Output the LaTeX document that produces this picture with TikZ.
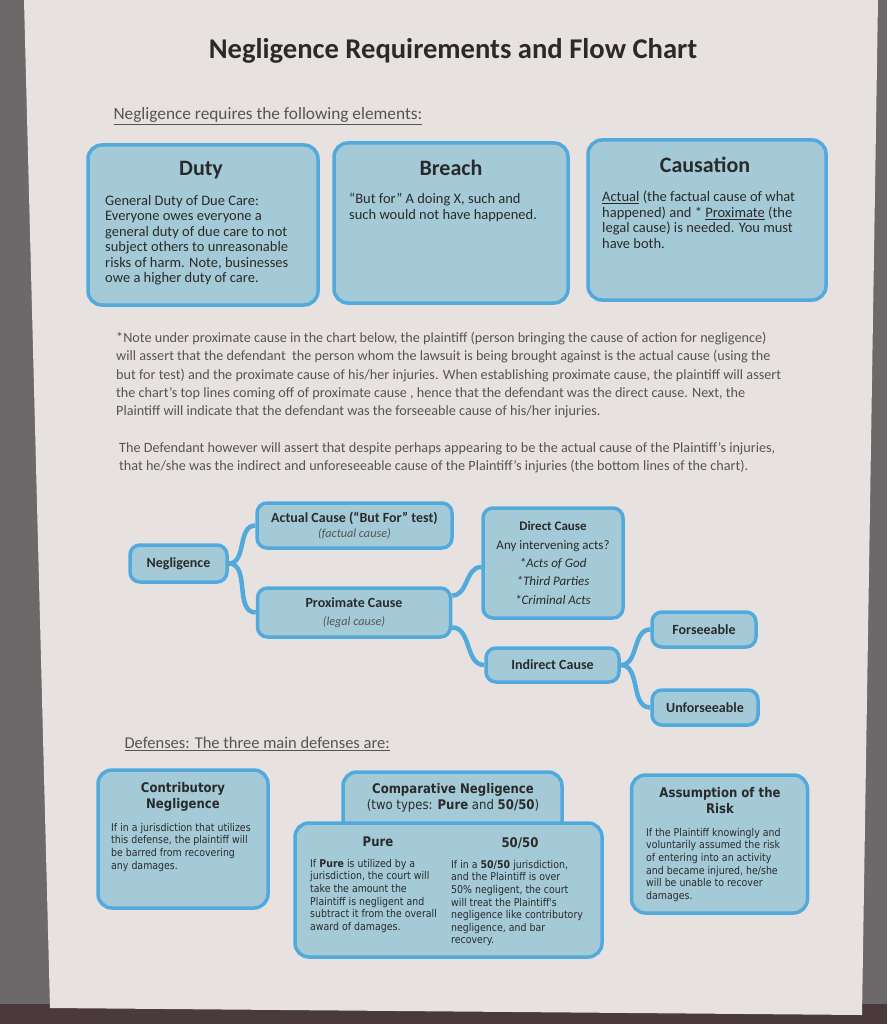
\documentclass[tikz,border=0pt]{standalone}
\usepackage{fontspec}
\setmainfont{Carlito}
\newfontfamily\tahoma[FakeStretch=0.88]{DejaVu Sans}

\definecolor{deskgray}{HTML}{6B6969}
\definecolor{deskbrown}{HTML}{4A3A3B}
\definecolor{pagebg}{HTML}{E7E2E0}
\definecolor{boxfill}{HTML}{A4CAD7}
\definecolor{boxline}{HTML}{52AADC}
\definecolor{inkdark}{HTML}{2A2A2A}
\definecolor{inkgray}{HTML}{555555}

\newcommand{\subtxt}[1]{{\fontsize{12.2}{15}\selectfont\itshape\color{inkgray}#1}}

\pgfdeclarelayer{paper}
\pgfdeclarelayer{wires}
\pgfsetlayers{paper,wires,main}

\begin{document}
\begin{tikzpicture}[
    x=1pt, y=-1pt,
    card/.style={draw=boxline, fill=boxfill, line width=3.5pt,
                 rounded corners=14pt, inner sep=0pt},
    chip/.style={draw=boxline, fill=boxfill, line width=3.5pt,
                 rounded corners=10pt, align=center, inner sep=2pt,
                 font=\fontsize{14}{17}\selectfont, text=inkdark},
    link/.style={boxline, line width=4.5pt},
    head/.style={font=\fontsize{22}{24}\selectfont\bfseries, text=inkdark},
    body/.style={font=\fontsize{14.5}{15.5}\selectfont, text=inkdark,
                 align=left, inner sep=0pt, anchor=north west},
    note/.style={font=\fontsize{14.2}{18.3}\selectfont, text=inkgray,
                 align=left, inner sep=0pt, anchor=north west},
    dhead/.style={font=\tahoma\fontsize{13.3}{16}\selectfont\bfseries,
                  text=inkdark, align=center, inner sep=0pt},
    dbody/.style={font=\tahoma\fontsize{10.7}{12.6}\selectfont, text=inkdark,
                  align=left, inner sep=0pt, anchor=north west}
]
\useasboundingbox (0,0) rectangle (887,1024);

% ---------- desk and page ----------
\begin{pgfonlayer}{paper}
\fill[deskgray] (0,0) rectangle (887,1024);
\fill[deskbrown] (0,1004) rectangle (887,1024);
\fill[pagebg] (24,0) -- (878,0) -- (862,1015) -- (50,1008) -- cycle;
\end{pgfonlayer}

% ---------- headings ----------
\node[font=\fontsize{28.6}{32}\selectfont\bfseries, text=inkdark] (title)
  at (453,51) {Negligence Requirements and Flow Chart};
\node[anchor=west, font=\fontsize{17.3}{20}\selectfont, text=inkgray] (intro)
  at (110,116) {\underline{Negligence requires the following elements:}};

% ---------- elements ----------
\node[card, minimum width=230, minimum height=160] (duty) at (203,225) {};
\node[card, minimum width=234, minimum height=160] (breach) at (451,223) {};
\node[card, minimum width=238, minimum height=160] (cause) at (707,220) {};

\node[head] (dutyT) at (201,170) {Duty};
\node[head] (breachT) at (451,168) {Breach};
\node[head] (causeT) at (705,165) {Causation};

\node[body] (dutyB) at (105,195) {General Duty of Due Care:\\
  Everyone owes everyone a\\ general duty of due care to not\\
  subject others to unreasonable\\ risks of harm. Note, businesses\\
  owe a higher duty of care.};
\node[body] (breachB) at (349,193) {``But for'' A doing X, such and\\
  such would not have happened.};
\node[body] (causeB) at (602,191) {\underline{Actual} (the factual cause of what\\
  happened) and * \underline{Proximate} (the\\ legal cause) is needed. You must\\
  have both.};

% ---------- note ----------
\node[note] (noteA) at (116,332) {*Note under proximate cause in the chart below, the plaintiff (person bringing the cause of action for negligence)\\
  will assert that the defendant\ \ the person whom the lawsuit is being brought against is the actual cause (using the\\
  but for test) and the proximate cause of his/her injuries. When establishing proximate cause, the plaintiff will assert\\
  the chart's top lines coming off of proximate cause , hence that the defendant was the direct cause. Next, the\\
  Plaintiff will indicate that the defendant was the forseeable cause of his/her injuries.};
\node[note] (noteB) at (119,442) {The Defendant however will assert that despite perhaps appearing to be the actual cause of the Plaintiff's injuries,\\
  that he/she was the indirect and unforeseeable cause of the Plaintiff's injuries (the bottom lines of the chart).};

% ---------- flow chart ----------
\node[chip, minimum width=97, minimum height=37] (neg) at (178.5,563.5)
  {\textbf{Negligence}};
\node[chip, minimum width=195, minimum height=45] (act) at (354.5,525.5)
  {\textbf{Actual Cause (“But For” test)}\\[-2pt] \subtxt{(factual cause)}};
\node[chip, minimum width=193, minimum height=49] (prox) at (354,612.5)
  {\textbf{Proximate Cause}\\[1pt] \subtxt{(legal cause)}};
\node[chip, minimum width=140, minimum height=110,
      font=\fontsize{13}{18.3}\selectfont] (dir) at (553,563)
  {\textbf{Direct Cause}\\ Any intervening acts?\\ \textit{*Acts of God}\\
   \textit{*Third Parties}\\ \textit{*Criminal Acts}};
\node[chip, minimum width=133, minimum height=34] (ind) at (552.5,665)
  {\textbf{Indirect Cause}};
\node[chip, minimum width=104, minimum height=35] (fore) at (704,629.5)
  {\textbf{Forseeable}};
\node[chip, minimum width=106, minimum height=35] (unfore) at (705,707.5)
  {\textbf{Unforseeable}};

\begin{pgfonlayer}{wires}
\draw[link] (neg.east) to[out=0, in=180] (act.west);
\draw[link] (neg.east) to[out=0, in=180] (prox.west);
\draw[link] ([yshift=17pt]prox.east) to[out=0, in=180] ([yshift=-4pt]dir.west);
\draw[link] ([yshift=-15pt]prox.east) to[out=0, in=180] (ind.west);
\draw[link] (ind.east) to[out=0, in=180] (fore.west);
\draw[link] (ind.east) to[out=0, in=180] (unfore.west);
\end{pgfonlayer}

% ---------- defenses ----------
\node[anchor=west, font=\fontsize{16.5}{20}\selectfont, text=inkgray] (defs)
  at (121,744) {\underline{Defenses: The three main defenses are:}};

\node[card, minimum width=170, minimum height=138] (contrib) at (183,839) {};
\node[card, minimum width=219, minimum height=62] (compar) at (452.5,803) {};
\node[card, minimum width=307, minimum height=134] (types) at (448.5,890) {};
\node[card, minimum width=176, minimum height=138] (assume) at (719.5,844) {};

\node[dhead] (contribT) at (183,797) {Contributory\\ Negligence};
\node[dhead, font=\tahoma\fontsize{13.3}{16}\selectfont] (comparT) at (453,798)
  {\textbf{Comparative Negligence}\\ (two types: \textbf{Pure} and \textbf{50/50})};
\node[dhead] (pureT) at (378,842) {Pure};
\node[dhead] (halfT) at (520,843) {50/50};
\node[dhead] (assumeT) at (720,801) {Assumption of the\\ Risk};

\node[dbody] (contribB) at (111,823) {If in a jurisdiction that utilizes\\
  this defense, the plaintiff will\\ be barred from recovering\\ any damages.};
\node[dbody] (pureB) at (310,859) {If \textbf{Pure} is utilized by a\\
  jurisdiction, the court will\\ take the amount the\\
  Plaintiff is negligent and\\ subtract it from the overall\\ award of damages.};
\node[dbody] (halfB) at (451,860) {If in a \textbf{50/50} jurisdiction,\\
  and the Plaintiff is over\\ 50\% negligent, the court\\
  will treat the Plaintiff's\\ negligence like contributory\\
  negligence, and bar\\ recovery.};
\node[dbody] (assumeB) at (646,828) {If the Plaintiff knowingly and\\
  voluntarily assumed the risk\\ of entering into an activity\\
  and became injured, he/she\\ will be unable to recover\\ damages.};

\end{tikzpicture}
\end{document}
